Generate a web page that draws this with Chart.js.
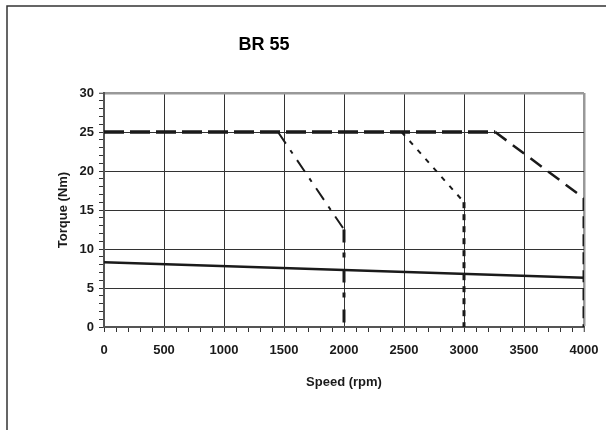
<!DOCTYPE html>
<html>
<head>
<meta charset="utf-8">
<style>
  html, body { margin: 0; padding: 0; background: #fff; }
  #wrap { width: 606px; height: 430px; }
</style>
<script src="https://cdn.jsdelivr.net/npm/chart.js@4/dist/chart.umd.min.js"></script>
</head>
<body>
<div id="wrap"><canvas id="torqueChart" width="606" height="430"></canvas></div>
<script>
// continuous torque line
const contSpeed = [0, 4000];
const contTorque = [8.3, 6.3];

// peak torque plateau
const peakSpeed = [0, 3260];
const peakTorque = [25, 25];

// fall-off segments for the three voltage variants
const fall2000Speed = [1450, 2000];
const fall2000Torque = [25, 12.5];
const fall3000Speed = [2480, 3000];
const fall3000Torque = [25, 16];
const fall4000Speed = [3260, 4000];
const fall4000Torque = [25, 16.5];

// vertical drop at max speed
const dropSpeed = [2000, 3000, 4000];
const dropTorque = [12.5, 16, 16.5];

const xTicks = [0, 500, 1000, 1500, 2000, 2500, 3000, 3500, 4000];
const yTicks = [0, 5, 10, 15, 20, 25, 30];

const pts = (xs, ys) => xs.map((x, i) => ({ x: x, y: ys[i] }));

const line = (data, width, dash) => ({
  data: data,
  borderColor: "#1a1a1a",
  borderWidth: width,
  borderDash: dash,
  pointRadius: 0,
  fill: false,
  tension: 0
});

const datasets = [
  line(pts(contSpeed, contTorque), 2.5, []),
  line(pts(peakSpeed, peakTorque), 3.5, [20, 6]),
  line(pts(fall2000Speed, fall2000Torque), 2, [14, 8, 4, 8]),
  line(pts(fall3000Speed, fall3000Torque), 2, [5, 7]),
  line(pts(fall4000Speed, fall4000Torque), 2.5, [14, 8])
];
const dropDash = [[13, 10, 5, 12], [6, 6], [12, 6]];
dropSpeed.forEach((s, i) => {
  datasets.push(line(pts([s, s], [dropTorque[i], 0]), 3, dropDash[i]));
});

const frame = {
  id: "frame",
  beforeDraw(chart) {
    const c = chart.ctx;
    c.save();
    c.strokeStyle = "#333";
    c.lineWidth = 1.5;
    c.strokeRect(7, 6, 700, 600);
    c.fillStyle = "#000";
    c.font = "bold 18px 'Liberation Sans', Arial, sans-serif";
    c.textAlign = "center";
    c.textBaseline = "middle";
    c.fillText("BR 55", 264, 45);
    c.restore();
  }
};

const labelFont = { family: "'Liberation Sans', Arial, sans-serif", size: 13, weight: "bold" };

new Chart(document.getElementById("torqueChart").getContext("2d"), {
  type: "line",
  data: { datasets: datasets },
  plugins: [frame],
  options: {
    responsive: false,
    animation: false,
    layout: { padding: { top: 93, right: 22, bottom: 40, left: 50 } },
    plugins: { legend: { display: false }, tooltip: { enabled: false } },
    scales: {
      x: {
        type: "linear",
        min: 0,
        max: 4000,
        afterFit: (s) => { s.height = 63; s.paddingLeft = 0; s.paddingRight = 0; },
        afterBuildTicks: (s) => {
          const t = [];
          for (let v = 0; v <= 4000; v += 100) t.push({ value: v });
          s.ticks = t;
        },
        ticks: {
          autoSkip: false,
          maxRotation: 0,
          padding: 11,
          color: "#1a1a1a",
          font: labelFont,
          callback: (v) => (xTicks.includes(v) ? String(v) : "")
        },
        grid: {
          color: (c) => (c.tick && c.tick.value % 500 === 0 ? (c.tick.value === 4000 ? "#999" : "#333") : "rgba(0,0,0,0)"),
          lineWidth: (c) => (c.tick && c.tick.value === 4000 ? 2.5 : 1),
          tickColor: "#333",
          tickLength: 5,
          tickWidth: 1
        },
        border: { color: "#555", width: 2 },
        title: { display: true, text: "Speed (rpm)", color: "#1a1a1a", font: labelFont, padding: { top: 6, bottom: 0 } }
      },
      y: {
        min: 0,
        max: 30,
        afterFit: (s) => { s.width = 54; s.paddingTop = 0; s.paddingBottom = 0; },
        afterBuildTicks: (s) => {
          const t = [];
          for (let v = 0; v <= 30; v += 1) t.push({ value: v });
          s.ticks = t;
        },
        ticks: {
          autoSkip: false,
          padding: 5,
          color: "#1a1a1a",
          font: labelFont,
          callback: (v) => (yTicks.includes(v) ? String(v) : "")
        },
        grid: {
          color: (c) => (c.tick && c.tick.value % 5 === 0 ? (c.tick.value === 30 ? "#999" : "#333") : "rgba(0,0,0,0)"),
          lineWidth: (c) => (c.tick && c.tick.value === 30 ? 2.5 : 1),
          tickColor: "#333",
          tickLength: 5,
          tickWidth: 1
        },
        border: { color: "#555", width: 2 },
        title: { display: true, text: "Torque (Nm)", color: "#1a1a1a", font: labelFont, padding: { top: 6, bottom: 0 } }
      }
    }
  }
});
</script>
</body>
</html>
